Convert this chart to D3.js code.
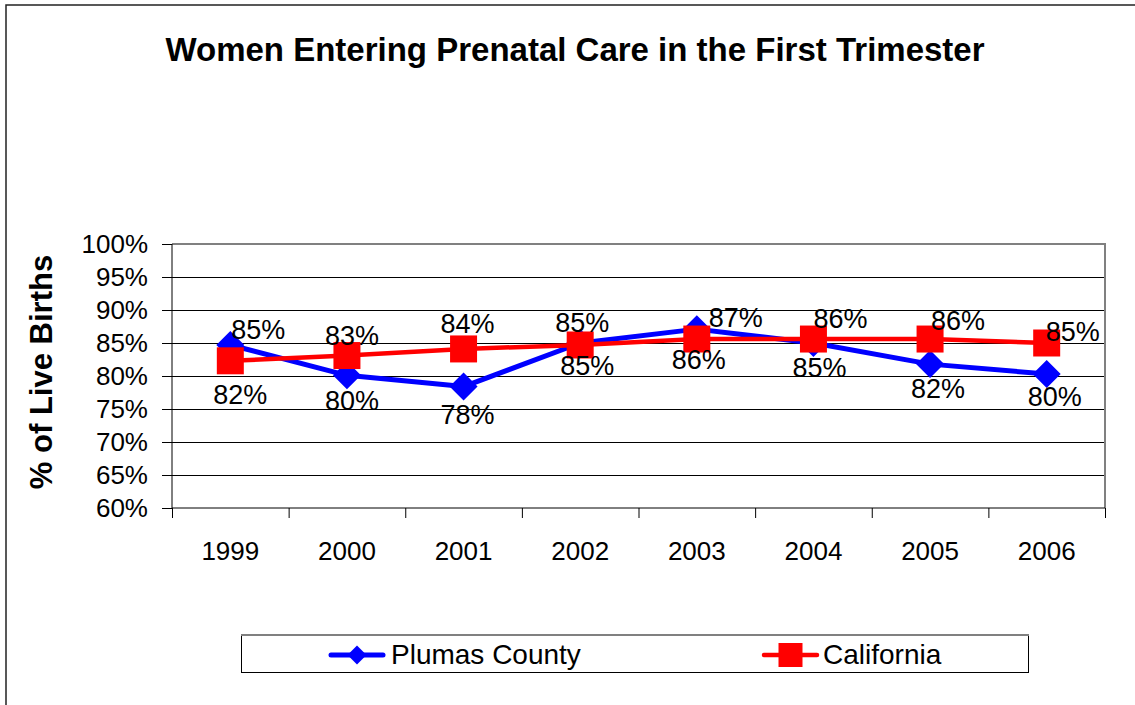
<!DOCTYPE html>
<html>
<head>
<meta charset="utf-8">
<script src="https://cdn.jsdelivr.net/npm/d3@7"></script>
<style>
  html, body { margin: 0; padding: 0; background: #fff; }
  svg { display: block; font-family: "Liberation Sans", Arial, sans-serif; }
</style>
</head>
<body>
<svg id="chart" width="1135" height="705"></svg>
<script>
// ---- data ----
const years = ["1999", "2000", "2001", "2002", "2003", "2004", "2005", "2006"];
const plumas = [0.847, 0.801, 0.784, 0.850, 0.871, 0.850, 0.818, 0.803];
const california = [0.823, 0.831, 0.841, 0.847, 0.856, 0.856, 0.856, 0.850];
const plumasLabels = ["85%", "80%", "78%", "85%", "87%", "85%", "82%", "80%"];
const californiaLabels = ["82%", "83%", "84%", "85%", "86%", "86%", "86%", "85%"];
const yTicks = [0.60, 0.65, 0.70, 0.75, 0.80, 0.85, 0.90, 0.95, 1.00];
const seriesNames = ["Plumas County", "California"];

// label placement offsets (dx, dy of baseline from point)
const plumasLabelOffsets = [[28, -6], [5, 35], [4, 37], [2, -11], [39, -2], [6, 34], [8, 34], [8, 32]];
const californiaLabelOffsets = [[10, 43], [5, -11], [4, -16], [7, 30], [2, 30], [27, -11], [28, -9], [26, -2]];

const svg = d3.select("#chart");
const plot = { left: 172, right: 1105, top: 244, bottom: 508 };

// outer frame
svg.append("rect").attr("x", 6).attr("y", 5).attr("width", 1300).attr("height", 900)
  .attr("fill", "none").attr("stroke", "#222").attr("stroke-width", 1.5);

const x = d3.scaleBand().domain(years).range([plot.left, plot.right]);
const xc = d => x(d) + x.bandwidth() / 2;
const y = d3.scaleLinear().domain([0.6, 1.0]).range([plot.bottom, plot.top]);

// gridlines
svg.append("g").selectAll("line").data(yTicks.slice(1)).join("line")
  .attr("x1", plot.left).attr("x2", plot.right)
  .attr("y1", d => Math.round(y(d)) + 0.5).attr("y2", d => Math.round(y(d)) + 0.5)
  .attr("stroke", "#000").attr("stroke-width", 1);

// plot border top/right
svg.append("path")
  .attr("d", `M${plot.left},${plot.top} H${plot.right} V${plot.bottom}`)
  .attr("fill", "none").attr("stroke", "#808080").attr("stroke-width", 2);

// y axis
const yAxis = svg.append("g").attr("transform", `translate(${plot.left},0)`)
  .call(d3.axisLeft(y).tickValues(yTicks).tickFormat(d3.format(".0%")).tickSize(10).tickPadding(14));
yAxis.select(".domain").attr("stroke", "#000").attr("d", `M0,${plot.top}V${plot.bottom}`);
yAxis.selectAll(".tick line").attr("stroke", "#000");
yAxis.selectAll("text").attr("font-size", 26).attr("fill", "#000")
  .attr("font-family", "'Liberation Sans', Arial, sans-serif");

// x axis: labels at band centres
const xAxis = svg.append("g").attr("transform", `translate(0,${plot.bottom})`)
  .call(d3.axisBottom(x).tickSize(0).tickPadding(33.5));
xAxis.select(".domain").attr("stroke", "#000").attr("d", `M${plot.left},0H${plot.right}`);
xAxis.selectAll("text").attr("font-size", 26).attr("fill", "#000")
  .attr("font-family", "'Liberation Sans', Arial, sans-serif");

// x tick marks at category boundaries
const xb = d3.scaleLinear().domain([0, years.length]).range([plot.left, plot.right]);
const xTickAxis = svg.append("g").attr("transform", `translate(0,${plot.bottom})`)
  .call(d3.axisBottom(xb).ticks(years.length).tickSize(10).tickFormat(""));
xTickAxis.select(".domain").remove();
xTickAxis.selectAll(".tick line").attr("stroke", "#000");

// series
const line = d3.line().x((d, i) => xc(years[i])).y(d => y(d));

// Plumas
svg.append("path").datum(plumas).attr("d", line)
  .attr("fill", "none").attr("stroke", "#0000FF").attr("stroke-width", 5).attr("stroke-linejoin", "round");
svg.append("g").selectAll("path").data(plumas).join("path")
  .attr("d", d3.symbol(d3.symbolSquare, 392))
  .attr("transform", (d, i) => `translate(${xc(years[i])},${y(d)}) rotate(45)`)
  .attr("fill", "#0000FF");

// California
svg.append("path").datum(california).attr("d", line)
  .attr("fill", "none").attr("stroke", "#FF0000").attr("stroke-width", 4.5).attr("stroke-linejoin", "round");
svg.append("g").selectAll("path").data(california).join("path")
  .attr("d", d3.symbol(d3.symbolSquare, 729))
  .attr("transform", (d, i) => `translate(${xc(years[i])},${y(d)})`)
  .attr("fill", "#FF0000");

// data labels
function labels(vals, texts, offs) {
  svg.append("g").selectAll("text").data(vals).join("text")
    .attr("x", (d, i) => xc(years[i]) + offs[i][0])
    .attr("y", (d, i) => y(d) + offs[i][1])
    .attr("text-anchor", "middle").attr("font-size", 27).attr("fill", "#000")
    .text((d, i) => texts[i]);
}
labels(plumas, plumasLabels, plumasLabelOffsets);
labels(california, californiaLabels, californiaLabelOffsets);

// title
svg.append("text").attr("x", 575).attr("y", 61).attr("text-anchor", "middle")
  .attr("font-size", 33).attr("font-weight", "bold").attr("fill", "#000")
  .text("Women Entering Prenatal Care in the First Trimester");

// y axis title
svg.append("text").attr("transform", "translate(52,372) rotate(-90)")
  .attr("text-anchor", "middle").attr("font-size", 31).attr("font-weight", "bold").attr("fill", "#000")
  .text("% of Live Births");

// legend
const lg = svg.append("g");
lg.append("rect").attr("x", 241.5).attr("y", 634.5).attr("width", 787).attr("height", 38)
  .attr("fill", "#fff").attr("stroke", "#000").attr("stroke-width", 1);
lg.append("line").attr("x1", 241).attr("x2", 1029).attr("y1", 635).attr("y2", 635)
  .attr("stroke", "#808080").attr("stroke-width", 2);

const legendItems = [
  { name: seriesNames[0], color: "#0000FF", x1: 331, x2: 383, tx: 391, sym: d3.symbol(d3.symbolSquare, 180), rot: 45, w: 5 },
  { name: seriesNames[1], color: "#FF0000", x1: 764, x2: 817, tx: 823, sym: d3.symbol(d3.symbolSquare, 576), rot: 0, w: 4.5 }
];
legendItems.forEach(it => {
  lg.append("line").attr("x1", it.x1).attr("x2", it.x2).attr("y1", 655).attr("y2", 655)
    .attr("stroke", it.color).attr("stroke-width", it.w).attr("stroke-linecap", "round");
  lg.append("path").attr("d", it.sym())
    .attr("transform", `translate(${(it.x1 + it.x2) / 2},655) rotate(${it.rot})`)
    .attr("fill", it.color);
  lg.append("text").attr("x", it.tx).attr("y", 664).attr("font-size", 28).attr("fill", "#000")
    .text(it.name);
});
</script>
</body>
</html>
